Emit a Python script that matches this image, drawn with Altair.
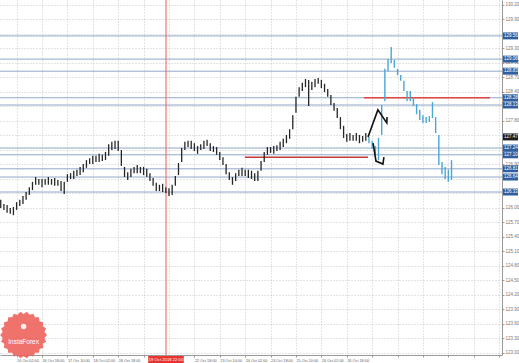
import math
import altair as alt
import pandas as pd

# ---------------- data ----------------
# bar index: one bar = 2 hours; tick every 8 bars (16 hours)
black_high = [126.17, 126.08, 126.06, 126.00, 126.02, 126.12, 126.17, 126.25, 126.33, 126.43,
              126.54, 126.64, 126.60, 126.60, 126.60, 126.64, 126.60, 126.62, 126.58, 126.56,
              126.54, 126.70, 126.72, 126.77, 126.79, 126.85, 126.91, 126.99, 127.03, 127.08,
              127.08, 127.12, 127.10, 127.16, 127.32, 127.37, 127.39, 127.39, 127.20, 126.85,
              126.74, 126.81, 126.85, 126.89, 126.85, 126.85, 126.81, 126.72, 126.62, 126.52,
              126.48, 126.50, 126.43, 126.41, 126.48, 126.66, 126.93, 127.24, 127.37, 127.39,
              127.39, 127.34, 127.28, 127.32, 127.39, 127.41, 127.34, 127.28, 127.26, 127.16,
              127.05, 126.91, 126.74, 126.64, 126.72, 126.79, 126.83, 126.79, 126.79, 126.77,
              126.72, 126.77, 126.97, 127.16, 127.26, 127.26, 127.28, 127.30, 127.37, 127.43,
              127.51, 127.63, 127.92, 128.30, 128.50, 128.59, 128.67, 128.65, 128.61, 128.67,
              128.69, 128.65, 128.57, 128.46, 128.34, 128.17, 128.07, 127.88, 127.70, 127.53,
              127.55, 127.51, 127.55, 127.51, 127.49, 127.55]
black_low = [126.00, 125.96, 125.90, 125.88, 125.85, 125.96, 126.04, 126.08, 126.17, 126.27,
             126.37, 126.48, 126.48, 126.43, 126.48, 126.48, 126.48, 126.46, 126.46, 126.35,
             126.29, 126.54, 126.60, 126.60, 126.66, 126.68, 126.74, 126.83, 126.91, 126.91,
             126.95, 126.95, 126.97, 126.99, 127.08, 127.20, 127.22, 127.18, 126.87, 126.64,
             126.58, 126.64, 126.72, 126.72, 126.72, 126.68, 126.64, 126.56, 126.46, 126.35,
             126.35, 126.33, 126.31, 126.25, 126.27, 126.46, 126.68, 126.95, 127.20, 127.26,
             127.22, 127.18, 127.12, 127.20, 127.22, 127.28, 127.18, 127.16, 127.10, 126.99,
             126.89, 126.70, 126.58, 126.48, 126.56, 126.66, 126.66, 126.66, 126.62, 126.60,
             126.56, 126.56, 126.77, 126.95, 127.10, 127.14, 127.12, 127.18, 127.20, 127.26,
             127.34, 127.43, 127.63, 127.97, 128.30, 128.42, 128.50, 128.11, 128.44, 128.50,
             128.57, 128.48, 128.40, 128.30, 128.13, 128.01, 127.86, 127.63, 127.45, 127.37,
             127.39, 127.39, 127.39, 127.34, 127.37, 127.39]
black_bars = list(range(-5, 111))

blue_high = [127.47, 127.39, 127.28, 127.45, 128.13, 128.88, 129.08, 129.33, 129.06, 128.88,
             128.75, 128.63, 128.42, 128.42, 128.28, 128.15, 128.03, 127.92, 127.88, 127.90,
             128.19, 127.88, 127.51, 126.95, 126.85, 126.79, 126.99]
blue_low = [127.34, 127.22, 127.08, 126.99, 127.51, 128.21, 128.83, 129.00, 128.90, 128.75,
            128.63, 128.42, 128.21, 128.21, 128.11, 127.94, 127.82, 127.76, 127.76, 127.78,
            127.86, 127.55, 126.89, 126.70, 126.60, 126.54, 126.58]
blue_bars = list(range(111, 138))

level_prices = [129.56, 129.08, 128.83, 128.28, 128.13, 127.24, 127.10, 126.81, 126.64, 126.33]
current_price = 127.47

y_ticks = [123.00, 123.30, 123.60, 123.90, 124.20, 124.50, 124.80, 125.10, 125.40, 125.70,
           126.00, 126.30, 126.60, 126.90, 127.20, 127.50, 127.80, 128.10, 128.40, 128.70,
           129.00, 129.30, 129.60, 129.90, 130.20]

x_tick_values = [0, 8, 16, 24, 32, 40, 48, 56, 64, 72, 80, 88, 96, 104, 112, 120, 128, 136, 144, 152]
x_tick_labels = ["16 Oct 02:00", "16 Oct 18:00", "17 Oct 10:00", "18 Oct 02:00", "18 Oct 18:00",
                 "", "", "22 Oct 18:00", "23 Oct 10:00", "24 Oct 02:00",
                 "24 Oct 18:00", "25 Oct 10:00", "26 Oct 02:00", "26 Oct 18:00"]

red_start = [109.4, 71.9]
red_end = [149.1, 110.7]
red_price = [128.28, 127.05]
red_colors = ["#e8433f", "#c83a36"]

vline_bar = 47.06
vline_label = "19 Oct 2018 22:00"

zig_group = ["a", "a", "a", "a", "b", "b", "b", "b"]
zig_order = [0, 1, 2, 3, 0, 1, 2, 3]
zig_bar = [110.7, 113.8, 116.6, 116.7, 112.3, 113.2, 115.4, 115.7]
zig_price = [127.47, 128.03, 127.76, 127.88, 127.34, 126.97, 126.91, 127.05]

# ---------------- chart ----------------
FONT = "Liberation Sans"
xs = alt.Scale(domain=[-5.23, 152.9], nice=False, zero=False)
ys = alt.Scale(domain=[122.958, 130.303], nice=False, zero=False)

label_list = "[" + ",".join("'%s'" % s for s in x_tick_labels) + "]"
xaxis = alt.Axis(values=x_tick_values, labelExpr="datum.value <= 104 ? %s[datum.value/8] : ''" % label_list,
                 labelAlign="left", labelFontSize=3.8, labelColor="#666", labelPadding=1,
                 tickSize=2, tickColor="#999", domainColor="#999", grid=True, gridDash=[1, 2],
                 gridColor="#c9c9c9", title=None, labelFont=FONT, labelOverlap=False, labelBound=False)

box_prices = level_prices + [current_price]
hide_cond = " || ".join("abs(datum.value - %.2f) < 0.06" % v for v in box_prices)
yaxis = alt.Axis(orient="right", values=y_ticks,
                 labelExpr="(%s) ? '' : format(datum.value, '.2f')" % hide_cond,
                 labelFontSize=4.5, labelColor="#777",
                 labelPadding=1, tickSize=2, tickColor="#999", domainColor="#999", grid=True,
                 gridDash=[1, 2], gridColor="#c9c9c9", title=None, labelFont=FONT, labelOverlap=False)

def X(f):
    return alt.X(f, type="quantitative", scale=xs, axis=xaxis)

def Y(f):
    return alt.Y(f, type="quantitative", scale=ys, axis=yaxis)

df_black = pd.DataFrame({"b": black_bars, "hi": black_high, "lo": black_low})
df_blue = pd.DataFrame({"b": blue_bars, "hi": blue_high, "lo": blue_low})
df_levels = pd.DataFrame({"p": level_prices})
df_red = pd.DataFrame({"b": red_start, "b2": red_end, "p": red_price, "c": red_colors})
df_v = pd.DataFrame({"b": [vline_bar], "t": [vline_label], "l": [vline_bar - 5.6], "r": [vline_bar + 5.6]})
df_zig = pd.DataFrame({"g": zig_group, "o": zig_order, "b": zig_bar, "p": zig_price})

box_colors = ["#2e5f9f"] * len(level_prices) + ["#1c1c1c"]
df_box = pd.DataFrame({"p": box_prices, "lo": [v - 0.072 for v in box_prices],
                       "hi": [v + 0.072 for v in box_prices], "c": box_colors,
                       "t": ["%.2f" % v for v in box_prices]})

levels = alt.Chart(df_levels).mark_rule(color="#8ea7c9", strokeWidth=1).encode(y=Y("p"))
black = alt.Chart(df_black).mark_rule(color="#262626", strokeWidth=1.3).encode(x=X("b"), y=Y("lo"), y2="hi")
blue = alt.Chart(df_blue).mark_rule(color="#4aa6d2", strokeWidth=1.4).encode(x=X("b"), y=Y("lo"), y2="hi")
reds = alt.Chart(df_red).mark_rule(strokeWidth=1.6).encode(
    x=X("b"), x2="b2", y=Y("p"), color=alt.Color("c:N", scale=None))
vline = alt.Chart(df_v).mark_rule(color="#ee5a55", strokeWidth=1).encode(x=X("b"))
zig = alt.Chart(df_zig).mark_line(color="#111111", strokeWidth=1.6).encode(
    x=X("b"), y=Y("p"), detail="g:N", order="o:Q")

boxes = alt.Chart(df_box).mark_rect().encode(
    x=alt.value(503), x2=alt.value(518), y=Y("lo"), y2="hi", color=alt.Color("c:N", scale=None))
box_text = alt.Chart(df_box).mark_text(align="left", baseline="middle", fontSize=4.5, color="white",
                                       font=FONT).encode(x=alt.value(504), y=Y("p"), text="t:N")

vbox = alt.Chart(df_v).mark_rect(color="#e8332e").encode(x=X("l"), x2="r", y=alt.value(356), y2=alt.value(363))
vtext = alt.Chart(df_v).mark_text(fontSize=4.2, color="white", baseline="middle", font=FONT).encode(
    x=X("b"), y=alt.value(359.5), text="t:N")

# logo badge
n = 22
pts = []
for i in range(2 * n):
    a = math.pi * i / n
    r = 1.0 if i % 2 == 0 else 0.9
    pts.append("%.3f,%.3f" % (r * math.cos(a), r * math.sin(a)))
badge_path = "M" + " L".join(pts) + " Z"
df_logo = pd.DataFrame({"b": [2.2], "p": [123.37], "tp": [123.22], "ip": [123.55], "t": ["InstaForex"]})
badge = alt.Chart(df_logo).mark_point(shape=badge_path, filled=True, size=2200, color="#ee5e58",
                                      opacity=0.88).encode(x=X("b"), y=Y("p"))
badge_text = alt.Chart(df_logo).mark_text(fontSize=6.5, color="white", font=FONT).encode(
    x=X("b"), y=Y("tp"), text="t:N")
badge_icon = alt.Chart(df_logo).mark_point(shape="circle", filled=True, size=30, color="white",
                                           opacity=0.9).encode(x=X("b"), y=Y("ip"))

chart = alt.layer(levels, vline, reds, black, blue, zig, badge, badge_text, badge_icon,
                  boxes, box_text, vbox, vtext).properties(
    width=502, height=355,
    autosize=alt.AutoSizeParams(type="none"),
    padding={"left": 0, "top": 0, "right": 17, "bottom": 8},
    background="white",
).configure_view(strokeWidth=0)

chart.save("out.html", embed_options={"renderer": "svg", "actions": False})
